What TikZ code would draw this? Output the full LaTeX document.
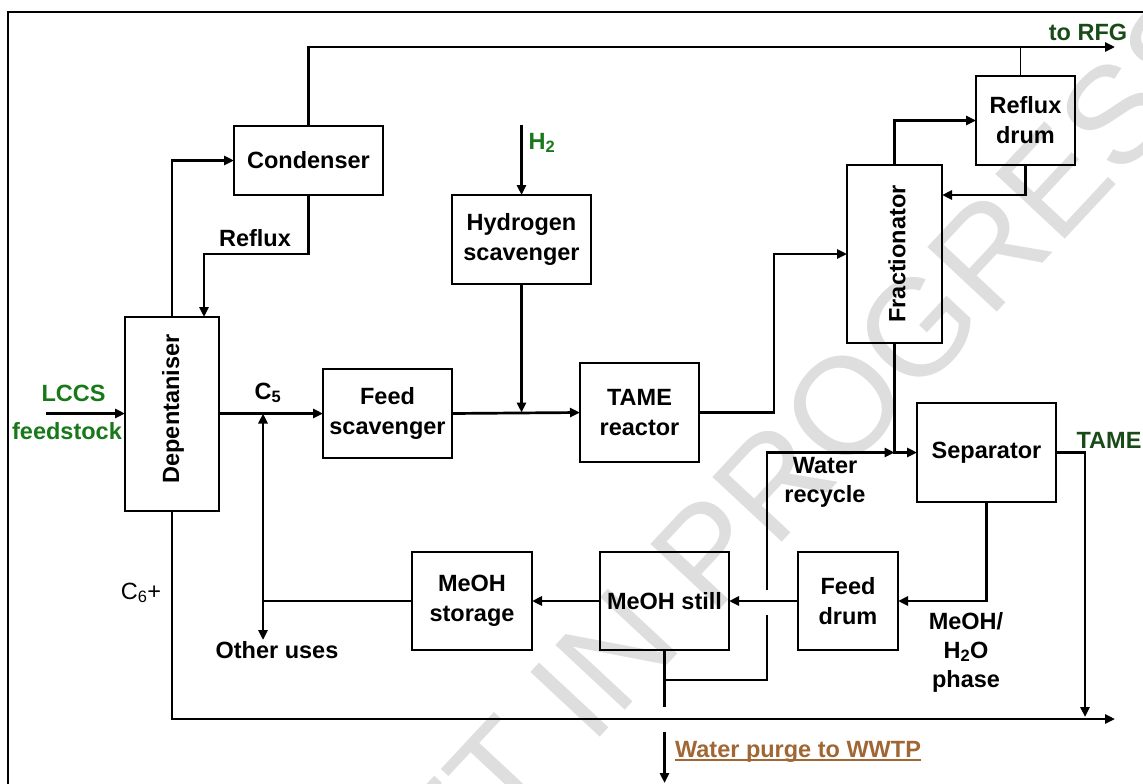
\documentclass[tikz,border=0pt]{standalone}
\usepackage{fontspec}
\setmainfont{Liberation Sans}
\usetikzlibrary{arrows.meta,calc}
\definecolor{lgreen}{RGB}{25,120,25}
\definecolor{dgreen}{RGB}{25,75,25}
\definecolor{purgec}{RGB}{160,102,52}
\definecolor{wmc}{RGB}{222,222,222}
\tikzset{
 box/.style={draw, line width=1.8pt, inner sep=0pt, outer sep=0pt, align=center, font=\bfseries\fontsize{23.5}{30}\selectfont},
 flow/.style={line width=2.7pt},
 thinflow/.style={line width=1.3pt},
 arr/.style={-{Triangle[length=10pt,width=9pt]}},
 lbl/.style={inner sep=0pt, align=center, font=\bfseries\fontsize{23.5}{29}\selectfont},
}
\begin{document}
\begin{tikzpicture}[x=1pt,y=-1pt]
\useasboundingbox (0,0) rectangle (1143,784);
% watermark
\node[rotate=47, text=wmc, font=\fontsize{138}{138}\selectfont, inner sep=0pt] (wmk) at (714,546) {DRAFT IN PROGRESS};
% frame
\coordinate (fbl) at (8,784);
\coordinate (ftl) at (8,12);
\coordinate (ftr) at (1143,12);
\draw[flow] (fbl) -- (ftl) -- (ftr);
% boxes
\node[box, minimum width=149pt, minimum height=69pt] (cond) at (308.5,160.5) {Condenser};
\node[box, minimum width=94pt, minimum height=194pt] (dep) at (172,414) {};
\node[lbl, rotate=90] (deplbl) at (173,409) {Depentaniser};
\node[box, minimum width=95pt, minimum height=178pt] (fr) at (894.5,254) {};
\node[lbl, rotate=90] (frlbl) at (897,254) {Fractionator};
\node[box, minimum width=129pt, minimum height=89pt] (fs) at (387.5,413.5) {Feed\\scavenger};
\node[box, minimum width=139pt, minimum height=89pt] (hs) at (521.5,239.5) {Hydrogen\\scavenger};
\node[box, minimum width=119pt, minimum height=99pt] (tr) at (639.5,412.5) {TAME\\reactor};
\node[box, minimum width=99pt, minimum height=89pt] (rd) at (1025.5,120.5) {Reflux\\drum};
\node[box, minimum width=139pt, minimum height=99pt] (sep) at (986.5,452.5) {Separator};
\node[box, minimum width=100pt, minimum height=98pt] (fd) at (848,601) {Feed\\drum};
\node[box, minimum width=129pt, minimum height=98pt] (mst) at (664.5,601) {MeOH still};
\node[box, minimum width=120pt, minimum height=98pt] (mso) at (472,601) {MeOH\\storage};
% coordinates
\coordinate (rfg) at (1115,47);
\coordinate (rfx) at (204,254);
\coordinate (lin) at (46,413.5);
\coordinate (h2in) at (521.5,125);
\coordinate (trup) at (774,412.5);
\coordinate (jn) at (894.5,452.5);
\coordinate (wra) at (767,680);
\coordinate (wrb) at (767,615);
\coordinate (wrc) at (767,590);
\coordinate (pga) at (664.5,707);
\coordinate (pgb) at (664.5,732);
\coordinate (pgc) at (664.5,783);
\coordinate (c5j) at (263,413.5);
\coordinate (ou) at (263,640);
\coordinate (tameo) at (1085,717);
\coordinate (c6o) at (1115,719);
% connectors
\draw[flow, arr] (dep.north) |- (cond.west);
\draw[flow, arr] (cond.south) |- (rfx) -- (rfx |- dep.north);
\draw[flow, arr] (cond.north) |- (rfg);
\draw[thinflow] ($(rd.north)+(-5,0)$) -- ($(rd.north |- rfg)+(-5,0)$);
\draw[flow, arr] (lin) -- (lin -| dep.west);
\draw[flow, arr] (fs.west -| dep.east) -- (fs.west);
\draw[flow, arr] (fs.east) -- (tr.west);
\draw[flow, arr] (h2in) -- (hs.north);
\draw[flow, arr] (hs.south) -- (hs.south |- tr.west);
\draw[flow, arr] (tr.east) -- (trup) |- (fr.west);
\draw[flow, arr] (fr.north) |- (rd.west);
\draw[flow, arr] (rd.south) |- ($(fr.east)+(0,-59)$);
\draw[flow, arr] (fr.south) -- (jn) -- (sep.west);
\draw[flow] (mst.south) |- (wra) -- (wrb);
\draw[flow, arr] (wrc) |- (jn);
\draw[flow] (mst.south) -- (pga);
\draw[flow, arr] (pgb) -- (pgc);
\draw[flow, arr] (sep.south) |- (fd.east);
\draw[flow, arr] (fd.west) -- (mst.east);
\draw[flow, arr] (mst.west) -- (mso.east);
\draw[flow] (mso.west) -- (mso.west -| c5j);
\draw[flow, {Triangle[length=10pt,width=9pt]}-{Triangle[length=10pt,width=9pt]}] (ou) -- (c5j);
\draw[flow, arr] (sep.east) -| (tameo);
\draw[flow, arr] (dep.south) |- (c6o);
% labels
\node[lbl, text=dgreen] (torfg) at (1088,32) {to RFG};
\node[lbl] (reflux) at (255,238) {Reflux};
\node[lbl, text=lgreen] (lccs) at (73.5,393) {LCCS};
\node[lbl, text=lgreen] (feedst) at (67,431) {feedstock};
\node[lbl] (c5) at (268,393) {C\textsubscript{5}};
\node[lbl, text=lgreen] (h2) at (542,143) {H\textsubscript{2}};
\node[lbl] (other) at (277,650) {Other uses};
\node[lbl, font=\fontsize{23.5}{29}\selectfont] (c6) at (141,593) {C\textsubscript{6}+};
\node[lbl] (wrec) at (825,482) {Water\\recycle};
\node[lbl] (meoh) at (966,652) {MeOH/\\H\textsubscript{2}O\\phase};
\node[lbl, text=dgreen] (tamel) at (1109,440) {TAME};
\node[lbl, text=purgec, anchor=base] (wp) at (798,757) {Water purge to WWTP};
\draw[purgec, line width=1.6pt] ([yshift=-3pt]wp.base west) -- ([yshift=-3pt]wp.base east);
\end{tikzpicture}
\end{document}
